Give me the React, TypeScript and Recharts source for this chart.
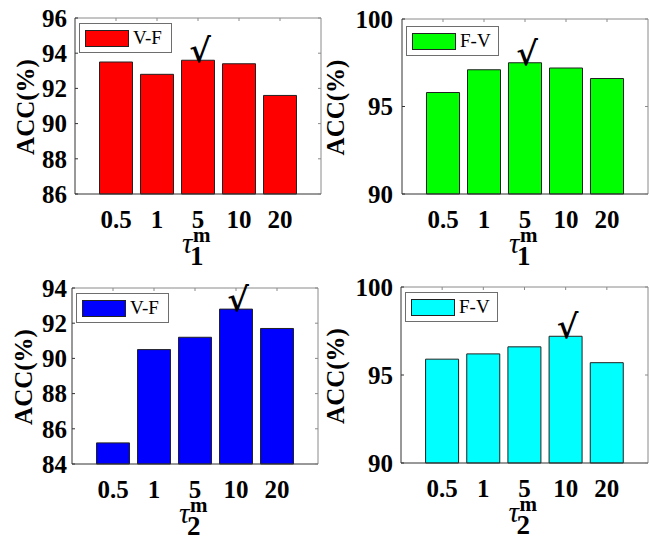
import React from "react";
import { BarChart, Bar, XAxis, YAxis, ReferenceLine, Legend, LabelList } from "recharts";

// tau^m settings on the x axis
const tauLabels = ["0.5", "1", "5", "10", "20"];

// ACC(%)
const vfTau1 = [93.5, 92.8, 93.6, 93.4, 91.6];
const fvTau1 = [95.8, 97.1, 97.5, 97.2, 96.6];
const vfTau2 = [85.2, 90.5, 91.2, 92.8, 91.7];
const fvTau2 = [95.9, 96.2, 96.6, 97.2, 95.7];

const ticksVF1 = [86, 88, 90, 92, 94, 96];
const ticksFV = [90, 95, 100];
const ticksVF2 = [84, 86, 88, 90, 92, 94];

const SERIF = "Liberation Serif";
const AXIS_DARK = "#333333";
const AXIS_LIGHT = "#8a8a8a";

const bold = (size: number) => ({ fontFamily: SERIF, fontWeight: 700, fontSize: size, fill: "#000" });

type PanelProps = {
  ox: number;
  oy: number;
  w: number;
  h: number;
  plotLeft: number;
  plotTop: number;
  plotW: number;
  plotH: number;
  values: number[];
  color: string;
  name: string;
  yTicks: number[];
  best: number;
  sub: string;
  tickGap: number;
  labelX: number;
  legendDy: number;
};

function Panel(p: PanelProps) {
  const data = tauLabels.map((label, i) => ({ pos: i + 1, label, acc: p.values[i] }));
  const right = p.w - p.plotLeft - p.plotW;
  const xAxisH = p.h - p.plotTop - p.plotH;
  const plotRight = p.plotLeft + p.plotW;
  const plotBottom = p.plotTop + p.plotH;
  const yMin = p.yTicks[0];
  const yMax = p.yTicks[p.yTicks.length - 1];
  const cx = p.plotLeft + p.plotW / 2;

  const yTick = ({ y, payload }: any) => (
    <g>
      <line x1={p.plotLeft} x2={p.plotLeft + 3} y1={y} y2={y} stroke={AXIS_DARK} />
      <line x1={plotRight - 3} x2={plotRight} y1={y} y2={y} stroke={AXIS_LIGHT} />
      <text x={p.plotLeft - p.tickGap} y={y} dy="0.35em" textAnchor="end" style={bold(25)}>
        {payload.value}
      </text>
    </g>
  );

  const xTick = ({ x, payload }: any) => (
    <g>
      <line x1={x} x2={x} y1={p.plotTop} y2={p.plotTop + 3} stroke={AXIS_LIGHT} />
      <text x={x} y={plotBottom + 34} textAnchor="middle" style={bold(25)}>
        {tauLabels[payload.value - 1]}
      </text>
    </g>
  );

  // tau with superscript m and subscript index, as one text element
  const xLabel = () => (
    <text x={cx - 16} y={plotBottom + 59} style={{ fontFamily: SERIF, fill: "#000" }}>
      <tspan style={{ fontStyle: "italic", fontSize: 29 }}>τ</tspan>
      <tspan x={cx - 5} dy={-11} style={{ fontWeight: 700, fontSize: 21 }}>
        m
      </tspan>
      <tspan x={cx - 8} dy={23} style={{ fontWeight: 700, fontSize: 27 }}>
        {p.sub}
      </tspan>
    </text>
  );

  const yLabel = () => {
    const cy = p.plotTop + p.plotH / 2 + 1;
    return (
      <text
        x={p.labelX}
        y={cy}
        transform={`rotate(-90, ${p.labelX}, ${cy})`}
        textAnchor="middle"
        dominantBaseline="central"
        style={bold(25)}
      >
        ACC(%)
      </text>
    );
  };

  const check = (lp: any) => {
    if (lp.index !== p.best) return null;
    return (
      <text
        x={Number(lp.x) + Number(lp.width) / 2 + 2}
        y={Number(lp.y) + 2}
        textAnchor="middle"
        style={{ fontFamily: "DejaVu Serif", fontWeight: 700, fontSize: 33, fill: "#000" }}
      >
        √
      </text>
    );
  };

  return (
    <div style={{ position: "absolute", left: p.ox, top: p.oy, width: p.w, height: p.h }}>
      <BarChart
        width={p.w}
        height={p.h}
        data={data}
        margin={{ top: p.plotTop, right, bottom: 0, left: 0 }}
      >
        <XAxis
          type="number"
          dataKey="pos"
          domain={[0, 6]}
          ticks={[1, 2, 3, 4, 5]}
          interval={0}
          height={xAxisH}
          tickLine={false}
          axisLine={{ stroke: AXIS_DARK }}
          tick={xTick}
          label={{ content: xLabel }}
        />
        <YAxis
          type="number"
          domain={[yMin, yMax]}
          ticks={p.yTicks}
          interval={0}
          width={p.plotLeft}
          tickLine={false}
          axisLine={{ stroke: AXIS_DARK }}
          tick={yTick}
          label={{ content: yLabel }}
        />
        <ReferenceLine y={yMax} stroke={AXIS_LIGHT} />
        <ReferenceLine x={6} stroke={AXIS_LIGHT} />
        <Legend
          layout="horizontal"
          verticalAlign="middle"
          align="center"
          wrapperStyle={{ left: p.plotLeft + 4, top: p.plotTop + p.legendDy, width: "auto", height: "auto" }}
          content={({ payload }: any) => {
            const e = payload && payload[0];
            return (
              <div
                style={{
                  width: 93,
                  height: 30,
                  boxSizing: "border-box",
                  border: "1px solid #6e6e6e",
                  background: "#fff",
                  display: "flex",
                  alignItems: "center",
                  paddingLeft: 5,
                }}
              >
                <div
                  style={{
                    width: 44,
                    height: 17,
                    boxSizing: "border-box",
                    border: "1px solid #222",
                    background: (e && e.color) || p.color,
                  }}
                />
                <span style={{ marginLeft: 4, fontFamily: SERIF, fontSize: 19, color: "#000" }}>
                  {(e && e.value) || p.name}
                </span>
              </div>
            );
          }}
        />
        <Bar
          dataKey="acc"
          name={p.name}
          fill={p.color}
          stroke="#222"
          strokeWidth={1}
          barSize={33}
          isAnimationActive={false}
        >
          <LabelList dataKey="acc" content={check} />
        </Bar>
      </BarChart>
    </div>
  );
}

export default function App() {
  return (
    <div style={{ position: "absolute", left: 0, top: 0, width: 649, height: 540, background: "#fff", overflow: "hidden" }}>
      <Panel
        ox={0} oy={0} w={325} h={276}
        plotLeft={75} plotTop={18} plotW={246} plotH={176}
        values={vfTau1} color="#ff0000" name="V-F" yTicks={ticksVF1} best={2} sub="1"
        tickGap={8} labelX={25} legendDy={5}
      />
      <Panel
        ox={320} oy={0} w={329} h={276}
        plotLeft={82} plotTop={19} plotW={246} plotH={175}
        values={fvTau1} color="#00ff00" name="F-V" yTicks={ticksFV} best={2} sub="1"
        tickGap={9} labelX={15} legendDy={7}
      />
      <Panel
        ox={0} oy={270} w={325} h={270}
        plotLeft={72} plotTop={18} plotW={246} plotH={176}
        values={vfTau2} color="#0000ff" name="V-F" yTicks={ticksVF2} best={3} sub="2"
        tickGap={5} labelX={23} legendDy={5}
      />
      <Panel
        ox={320} oy={270} w={329} h={270}
        plotLeft={81} plotTop={17} plotW={247} plotH={176}
        values={fvTau2} color="#00ffff" name="F-V" yTicks={ticksFV} best={3} sub="2"
        tickGap={8} labelX={15} legendDy={5}
      />
    </div>
  );
}
